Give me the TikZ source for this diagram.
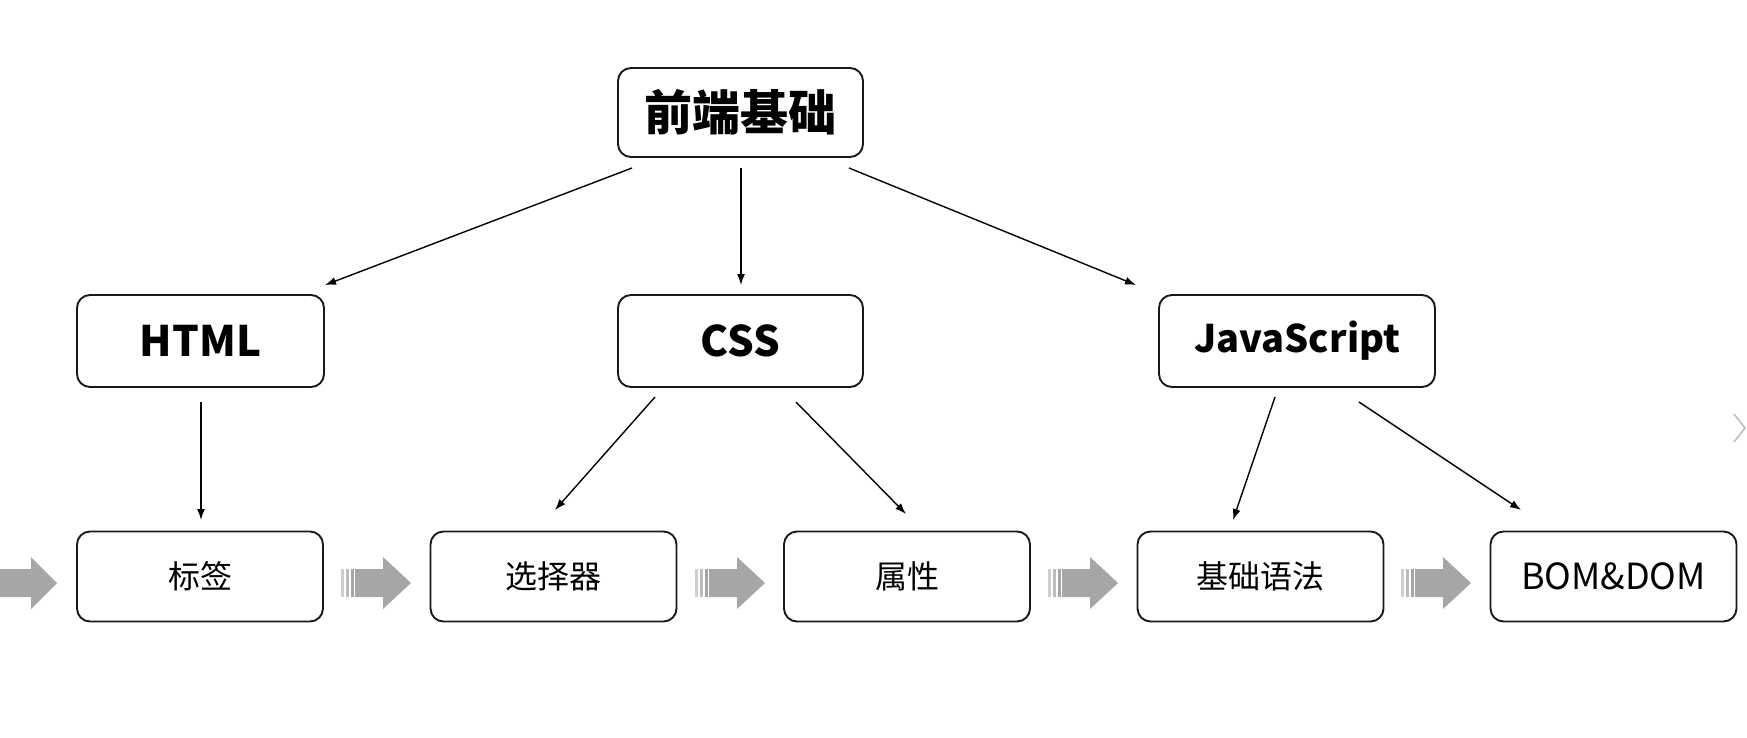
\documentclass[tikz,border=0pt]{standalone}
\usepackage{fontspec}
\setmainfont{Noto Sans CJK SC}
\usetikzlibrary{arrows.meta}
\definecolor{arrowgray}{HTML}{A6A6A6}
\tikzset{
  box/.style={draw=black!90, line width=1.9pt, rounded corners=13pt, fill=white, inner sep=0pt, align=center},
  topbox/.style={box, minimum width=245pt, minimum height=89pt, font=\fontsize{48}{52}\selectfont\bfseries},
  midbox/.style={box, minimum height=92pt, font=\fontsize{42}{46}\selectfont\bfseries},
  lowbox/.style={box, minimum width=246pt, minimum height=90pt, font=\fontsize{32}{36}\selectfont},
  conn/.style={line width=1.4pt, -{Latex[length=11pt,width=8pt]}},
  flow/.style={fill=arrowgray, draw=none}
}
\newcommand\flowarrow[1]{%
  \begin{scope}[shift={(#1,583)}]
    \fill[flow, opacity=0.55] (0,-14) rectangle (3,14);
    \fill[flow, opacity=0.75] (5,-14) rectangle (8,14);
    \fill[flow] (10,-14) rectangle (12.5,14);
    \fill[flow] (14,-14) -- (42,-14) -- (42,-26) -- (70,0) -- (42,26) -- (42,14) -- (14,14) -- cycle;
  \end{scope}}
\begin{document}
\begin{tikzpicture}[x=1pt,y=-1pt]
\fill[white] (0,0) rectangle (1747,737);
\useasboundingbox (0,0) rectangle (1747,737);

% nodes
\node[topbox] (top) at (740.5,112.5) {前端基础};
\node[midbox, minimum width=247pt] (html) at (200.5,341) {HTML};
\node[midbox, minimum width=245pt] (css) at (740.5,341) {CSS};
\node[midbox, minimum width=276pt, font=\fontsize{38}{42}\selectfont\bfseries] (js) at (1297,341) {JavaScript};
\node[lowbox] (tag) at (200,576.5) {标签};
\node[lowbox] (sel) at (553.5,576.5) {选择器};
\node[lowbox] (attr) at (907,576.5) {属性};
\node[lowbox] (syn) at (1260.5,576.5) {基础语法};
\node[lowbox, font=\fontsize{36}{40}\selectfont] (bom) at (1613.5,576.5) {BOM\&DOM};

% connector end points
\coordinate (t1) at (632,168);  \coordinate (h1) at (325,285);
\coordinate (t2) at (741,168);  \coordinate (c1) at (741,285);
\coordinate (t3) at (849,168);  \coordinate (j1) at (1136,285);
\coordinate (h2) at (201,402);  \coordinate (g1) at (201,520);
\coordinate (c2) at (655,397);  \coordinate (s1) at (555,510);
\coordinate (c3) at (796,402);  \coordinate (a1) at (906,514);
\coordinate (j2) at (1275,397); \coordinate (y1) at (1233,520);
\coordinate (j3) at (1359,402); \coordinate (b1) at (1521,510);

\draw[conn] (t1) -- (h1);
\draw[conn] (t2) -- (c1);
\draw[conn] (t3) -- (j1);
\draw[conn] (h2) -- (g1);
\draw[conn] (c2) -- (s1);
\draw[conn] (c3) -- (a1);
\draw[conn] (j2) -- (y1);
\draw[conn] (j3) -- (b1);

% gray flow arrows
\begin{scope}[shift={(0,583)}]
  \fill[flow] (-5,-14) -- (31,-14) -- (31,-26) -- (57,0) -- (31,26) -- (31,14) -- (-5,14) -- cycle;
\end{scope}
\flowarrow{341}
\flowarrow{695}
\flowarrow{1048}
\flowarrow{1401}

% chevron at right edge
\draw[black!25, line width=1.6pt] (1734,414) -- (1745,428) -- (1734,442);
\end{tikzpicture}
\end{document}
